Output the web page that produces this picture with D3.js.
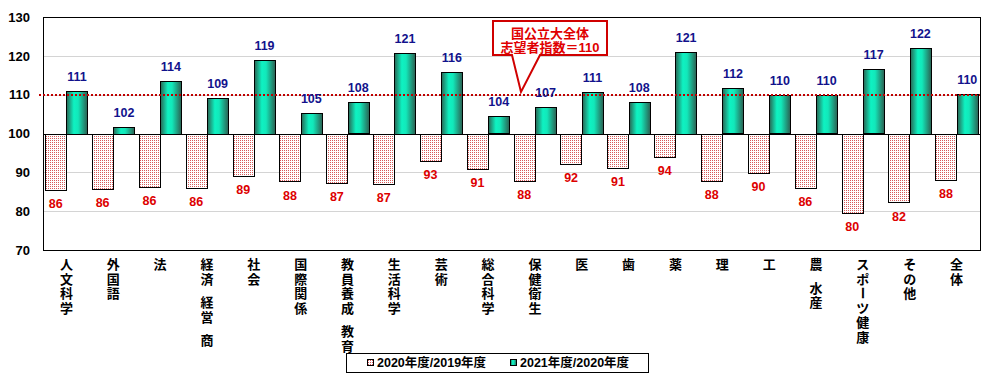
<!DOCTYPE html>
<html>
<head>
<meta charset="utf-8">
<script src="https://cdn.jsdelivr.net/npm/d3@7"></script>
<style>
  body { margin: 0; background: #fff; }
  svg { display: block; }
  text { font-family: "Liberation Sans", Arial, "Noto Sans CJK JP", sans-serif; }
</style>
</head>
<body>
<div id="chart"></div>
<script>
var categories = ["人文科学", "外国語", "法", "経済 経営 商", "社会", "国際関係", "教員養成 教育",
    "生活科学", "芸術", "総合科学", "保健衛生", "医", "歯", "薬", "理", "工", "農 水産",
    "スポーツ健康", "その他", "全体"];
var ratio2020 = [85.6, 85.9, 86.4, 86.2, 89.2, 87.8, 87.4, 87.2, 93.1, 91.0,
    87.9, 92.3, 91.3, 94.1, 87.9, 90.0, 86.2, 79.7, 82.4, 88.2];
var ratio2021 = [111.0, 101.8, 113.6, 109.2, 119.0, 105.3, 108.0, 120.8, 115.9, 104.4,
    106.9, 110.8, 108.2, 121.0, 111.6, 109.8, 109.8, 116.6, 122.1, 110.2];
var seriesNames = ["2020年度/2019年度", "2021年度/2020年度"];
var yTicks = [70, 80, 90, 100, 110, 120, 130];
var baseValue = 100;
var refValue = 110;
var noteLines = ["国公立大全体", "志望者指数＝110"];

var W = 990, H = 388;
var plotL = 43, plotR = 980, plotT = 17, plotB = 250;

var svg = d3.select("#chart").append("svg")
    .attr("width", W)
    .attr("height", H);

var defs = svg.append("defs");
var pat = defs.append("pattern")
    .attr("id", "dots")
    .attr("width", 2).attr("height", 2)
    .attr("patternUnits", "userSpaceOnUse");
pat.append("rect").attr("width", 2).attr("height", 2).attr("fill", "#fff");
pat.append("rect").attr("width", 1).attr("height", 1).attr("fill", "#d85a5a");

var grad = defs.append("linearGradient")
    .attr("id", "teal")
    .attr("x1", 0).attr("x2", 1).attr("y1", 0).attr("y2", 0);
grad.append("stop").attr("offset", "0%").attr("stop-color", "#2a6654");
grad.append("stop").attr("offset", "35%").attr("stop-color", "#0ef2c2");
grad.append("stop").attr("offset", "55%").attr("stop-color", "#12e8ba");
grad.append("stop").attr("offset", "100%").attr("stop-color", "#2c5e50");

var x = d3.scaleBand()
    .domain(categories)
    .range([plotL, plotR])
    .paddingInner(0.09)
    .paddingOuter(0.045);
var sub = d3.scaleBand()
    .domain([0, 1])
    .range([0, x.bandwidth()]);
var y = d3.scaleLinear()
    .domain([70, 130])
    .range([plotB, plotT]);

// gridlines
svg.append("g").selectAll("line")
    .data(yTicks.filter(function(d) { return d != 70 && d != 130 && d != baseValue; }))
    .enter().append("line")
    .attr("x1", plotL).attr("x2", plotR)
    .attr("y1", function(d) { return Math.round(y(d)) + 0.5; })
    .attr("y2", function(d) { return Math.round(y(d)) + 0.5; })
    .attr("stroke", "#d4d4d4");

// y axis labels
var yAxis = svg.append("g")
    .attr("transform", "translate(" + plotL + ",0)")
    .call(d3.axisLeft(y).tickValues(yTicks).tickSize(0).tickPadding(13));
yAxis.select(".domain").remove();
yAxis.selectAll("text")
    .style("font-size", "13px")
    .style("font-weight", "bold")
    .attr("fill", "#000");

var rows = categories.map(function(c, i) {
    return {cat: c, a: ratio2020[i], b: ratio2021[i]};
});

// 2020/2019 bars (below 100)
svg.append("g").selectAll("rect")
    .data(rows)
    .enter().append("rect")
    .attr("x", function(d) { return Math.round(x(d.cat) + sub(0)) + 0.5; })
    .attr("y", Math.round(y(baseValue)) + 0.5)
    .attr("width", Math.round(sub.bandwidth()))
    .attr("height", function(d) { return Math.round(y(d.a) - y(baseValue)); })
    .attr("fill", "url(#dots)")
    .attr("stroke", "#000");

// 2021/2020 bars (above 100)
svg.append("g").selectAll("rect")
    .data(rows)
    .enter().append("rect")
    .attr("x", function(d) { return Math.round(x(d.cat) + sub(1)) + 0.5; })
    .attr("y", function(d) { return Math.round(y(d.b)) + 0.5; })
    .attr("width", Math.round(sub.bandwidth()))
    .attr("height", function(d) { return Math.round(y(baseValue) - y(d.b)); })
    .attr("fill", "url(#teal)")
    .attr("stroke", "#000");

// frame and 100 line
svg.append("rect")
    .attr("x", plotL + 0.5).attr("y", plotT + 0.5)
    .attr("width", plotR - plotL).attr("height", plotB - plotT)
    .attr("fill", "none").attr("stroke", "#000");
svg.append("line")
    .attr("x1", plotL).attr("x2", plotR)
    .attr("y1", Math.round(y(baseValue)) + 0.5).attr("y2", Math.round(y(baseValue)) + 0.5)
    .attr("stroke", "#000");

// reference line at 110
svg.append("line")
    .attr("x1", 39).attr("x2", plotR)
    .attr("y1", Math.round(y(refValue))).attr("y2", Math.round(y(refValue)))
    .attr("stroke", "#c00000")
    .attr("stroke-width", 2)
    .attr("stroke-dasharray", "2,2");

var fmt = d3.format(".0f");

// value labels
svg.append("g").selectAll("text")
    .data(rows)
    .enter().append("text")
    .attr("x", function(d) { return x(d.cat) + sub(1) + sub.bandwidth() / 2; })
    .attr("y", function(d) { return y(d.b) - 10; })
    .attr("text-anchor", "middle")
    .style("font-size", "12.5px")
    .style("font-weight", "bold")
    .attr("fill", "#12128c")
    .text(function(d) { return fmt(d.b); });

svg.append("g").selectAll("text")
    .data(rows)
    .enter().append("text")
    .attr("x", function(d) { return x(d.cat) + sub(0) + sub.bandwidth() / 2; })
    .attr("y", function(d) { return y(d.a) + 19; })
    .attr("text-anchor", "middle")
    .style("font-size", "12.5px")
    .style("font-weight", "bold")
    .attr("fill", "#dd0000")
    .text(function(d) { return fmt(d.a); });

// vertical category labels
var catG = svg.append("g");
categories.forEach(function(c) {
    var cx = x(c) + x.bandwidth() / 2;
    var yy = 269;
    c.split("").forEach(function(ch) {
        if (ch == " ") { yy += 9; return; }
        if (ch == "ー") {
            catG.append("text")
                .attr("transform", "translate(" + cx + "," + (yy - 5) + ") rotate(90)")
                .attr("text-anchor", "middle")
                .attr("dy", "0.35em")
                .style("font-size", "13px")
                .style("font-weight", "bold")
                .text(ch);
        } else {
            catG.append("text")
                .attr("x", cx)
                .attr("y", yy)
                .attr("text-anchor", "middle")
                .style("font-size", "13px")
                .style("font-weight", "bold")
                .text(ch);
        }
        yy += 14.5;
    });
});

// callout
svg.append("path")
    .attr("d", "M493,21 H607 V55 H540 L521,92 L512,55 H493 Z")
    .attr("fill", "#fff")
    .attr("stroke", "#d00000")
    .attr("stroke-width", 2);
svg.append("g").selectAll("text")
    .data(noteLines)
    .enter().append("text")
    .attr("x", 550)
    .attr("y", function(d, i) { return 37.5 + i * 14; })
    .attr("text-anchor", "middle")
    .style("font-size", "13px")
    .style("font-weight", "bold")
    .attr("fill", "#e00000")
    .text(function(d) { return d; });

// legend
var lg = svg.append("g");
lg.append("rect")
    .attr("x", 346.5).attr("y", 353.5)
    .attr("width", 302).attr("height", 19)
    .attr("fill", "#fff").attr("stroke", "#000");
var lx = [367, 510];
var fills = ["url(#dots)", "url(#teal)"];
seriesNames.forEach(function(n, i) {
    lg.append("rect")
        .attr("x", lx[i] + 0.5).attr("y", 359.5)
        .attr("width", 6).attr("height", 6)
        .attr("fill", fills[i])
        .attr("stroke", "#000");
    lg.append("text")
        .attr("x", lx[i] + 10)
        .attr("y", 367)
        .style("font-size", "12.5px")
        .style("font-weight", "bold")
        .text(n);
});
</script>
</body>
</html>
